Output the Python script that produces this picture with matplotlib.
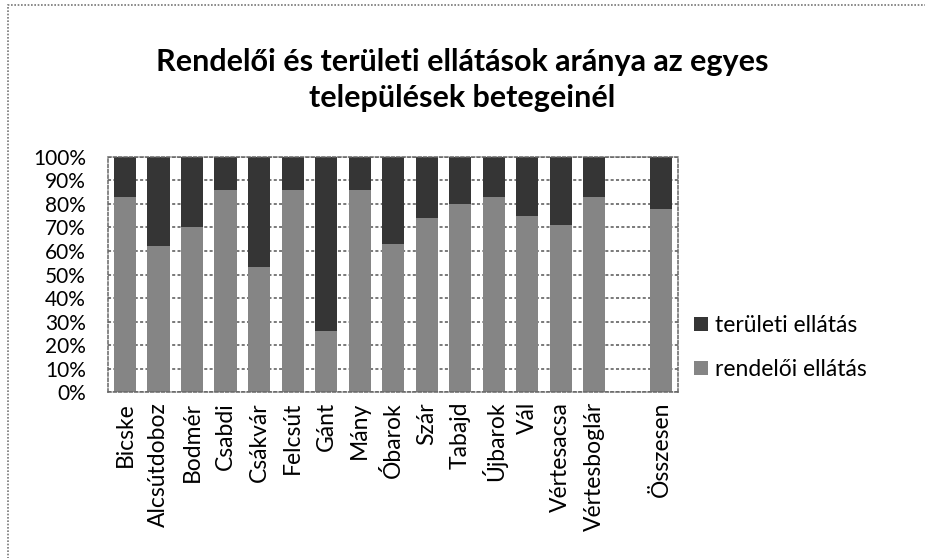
import numpy as np
import matplotlib.pyplot as plt
from matplotlib.patches import Rectangle

plt.rcParams['font.family'] = ['Lato', 'DejaVu Sans']

# települések (the empty slot between Vértesboglár and Összesen is kept as in the original)
telepulesek = ['Bicske', 'Alcsútdoboz', 'Bodmér', 'Csabdi', 'Csákvár', 'Felcsút', 'Gánt',
               'Mány', 'Óbarok', 'Szár', 'Tabajd', 'Újbarok', 'Vál', 'Vértesacsa',
               'Vértesboglár', '', 'Összesen']
rendeloi = [83, 62, 70, 86, 53, 86, 26, 86, 63, 74, 80, 83, 75, 71, 83, np.nan, 78]
teruleti = [17, 38, 30, 14, 47, 14, 74, 14, 37, 26, 20, 17, 25, 29, 17, np.nan, 22]
yticks = [0, 10, 20, 30, 40, 50, 60, 70, 80, 90, 100]

fig = plt.figure(figsize=(9.25, 5.58), dpi=100)
ax = fig.add_axes([0.117, 0.297, 0.616, 0.422])

x = np.arange(len(telepulesek))
b1 = ax.bar(x, rendeloi, width=0.66, color='#858585', label='rendelői ellátás', zorder=2)
b2 = ax.bar(x, teruleti, width=0.66, bottom=rendeloi, color='#353535',
            label='területi ellátás', zorder=2)

ax.set_xlim(-0.5, len(telepulesek) - 0.5)
ax.set_ylim(0, 100)
ax.set_yticks(yticks)
ax.set_yticklabels([f'{v}%' for v in yticks], fontsize=15)
ax.set_xticks(x)
ax.set_xticklabels(telepulesek, rotation=90, fontsize=16.5)
ax.tick_params(length=0, pad=7)
ax.tick_params(axis='y', pad=16)

ax.yaxis.grid(True, color='#555555', linestyle=(0, (2, 1.5)), linewidth=1.1, zorder=0)
for s in ax.spines.values():
    s.set_color('#666666')
    s.set_linestyle((0, (2, 1.5)))
    s.set_linewidth(1.1)

ax.legend(handles=[b2, b1], loc='center left', bbox_to_anchor=(1.0, 0.19),
          frameon=False, fontsize=16.5, handlelength=0.6, handleheight=0.6,
          handletextpad=0.3, labelspacing=1.0, borderpad=0.2)

fig.text(0.5, 0.856, 'Rendelői és területi ellátások aránya az egyes\ntelepülések betegeinél',
         ha='center', va='center', fontsize=22, fontweight='bold', linespacing=1.35)

# keret
fig.patches.append(Rectangle((8 / 925, -0.05), 1.0, 1.05 - 5 / 558, transform=fig.transFigure,
                             fill=False, edgecolor='#777777', linewidth=1.2, linestyle=(0, (1, 1))))

fig.savefig('out.png', dpi=100)
